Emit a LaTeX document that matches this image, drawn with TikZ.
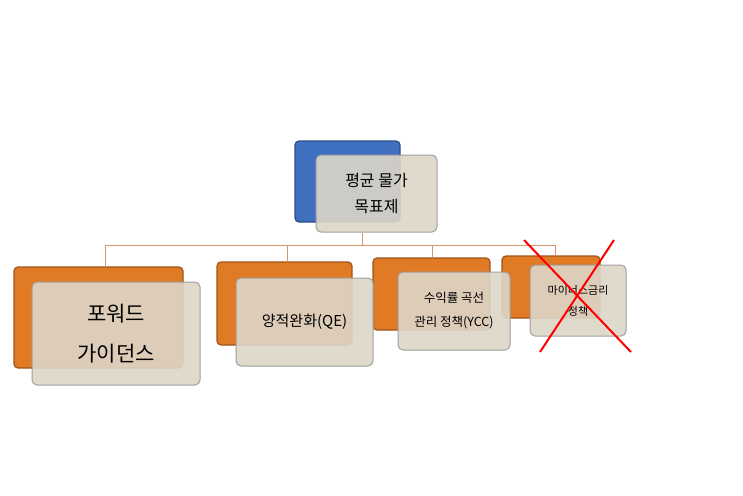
\documentclass[tikz,border=0pt]{standalone}
\usepackage{fontspec}
\setmainfont{Noto Sans CJK KR}
\begin{document}
\begin{tikzpicture}[x=1pt,y=-1pt,
  back/.style={draw=#1!70!black,fill=#1,rounded corners=4pt,line width=1.2pt},
  front/.style={draw=gray!75,fill=fr,fill opacity=0.9,text opacity=1,rounded corners=5pt,line width=1pt,align=center,inner sep=0pt},
  conn/.style={draw=cn,line width=0.8pt}]
\definecolor{ob}{HTML}{E07A25}
\definecolor{bb}{HTML}{3F6FBF}
\definecolor{fr}{HTML}{DDD6C8}
\definecolor{cn}{HTML}{D9956A}
\useasboundingbox (0,0) rectangle (743,495);
% top
\path[back=bb] (295,141) rectangle (400,222);
\node[front,minimum width=121pt,minimum height=77pt,font=\fontsize{16}{26}\selectfont] (top) at (376.5,193.5) {평균 물가\\목표제};
% children backs
\path[back=ob] (14,267) rectangle (183,368);
\path[back=ob] (217,262) rectangle (352,345);
\path[back=ob] (373,258) rectangle (490,330);
\path[back=ob] (502,256) rectangle (600,318);
\node[front,minimum width=168pt,minimum height=103pt,font=\fontsize{21}{40}\selectfont] (c1) at (116,333.5) {포워드\\가이던스};
\node[front,minimum width=137pt,minimum height=88pt,font=\fontsize{15}{18}\selectfont] (c2) at (304.5,322) {양적완화(QE)};
\node[front,minimum width=112pt,minimum height=78pt,font=\fontsize{12.5}{24}\selectfont] (c3) at (454,311) {수익률 곡선\\관리 정책(YCC)};
\node[front,minimum width=96pt,minimum height=71pt,font=\fontsize{11}{21}\selectfont] (c4) at (578,300.5) {마이너스금리\\정책};
% connectors
\coordinate (h) at (362,245);
\draw[conn] (top.south -| h) -- (h);
\draw[conn] (105,245) -- (555,245);
\draw[conn] (105,245) -- (105,267);
\draw[conn] (287,245) -- (287,262);
\draw[conn] (432,245) -- (432,258);
\draw[conn] (555,245) -- (555,256);
% red X
\draw[red,line width=2pt] (524,240) -- (631,352);
\draw[red,line width=2pt] (614,240) -- (540,352);
\end{tikzpicture}
\end{document}
